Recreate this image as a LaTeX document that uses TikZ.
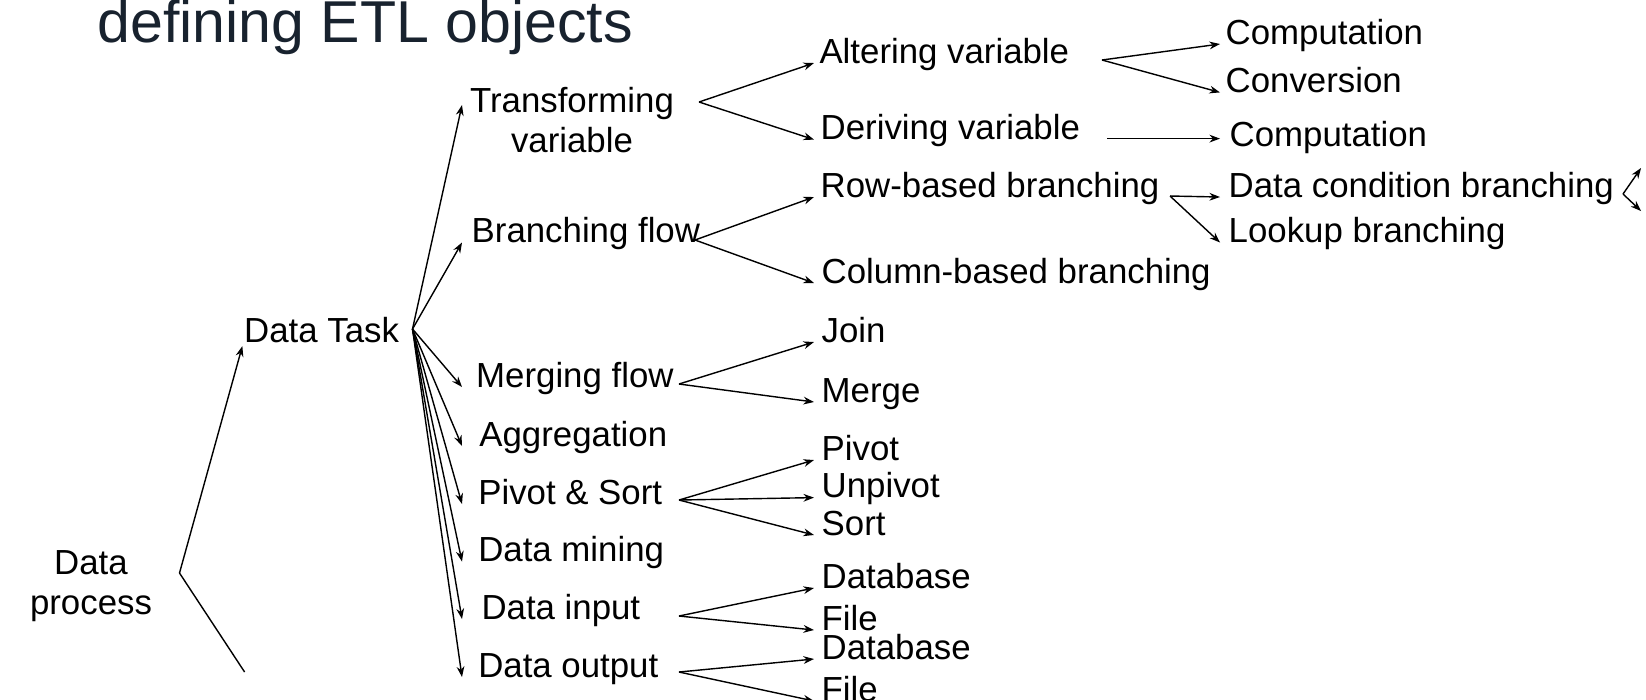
\documentclass[tikz,border=0pt]{standalone}
\usepackage{fontspec}
\setmainfont{Liberation Sans}
\usetikzlibrary{positioning,arrows.meta}
\definecolor{titlenavy}{HTML}{18222E}

\begin{document}
\begin{tikzpicture}[x=0.01cm, y=-0.01cm,
  >={Stealth[length=3pt,width=2.2pt]},
  item/.style={anchor=base west, inner sep=0pt, font=\fontsize{9.9}{11.1}\selectfont},
  link/.style={->, line width=0.4pt}]

\useasboundingbox (0,0) rectangle (1646,699);

% Title
\node[anchor=base west, inner sep=0pt, text=titlenavy, font=\fontsize{16.8}{20}\selectfont] (title) at (97,42) {defining ETL objects};

% Root and first level
\node[item, anchor=base, align=center] (process) at (91,614) {Data\\process};
\node[item] (task) at (243.5,342) {Data Task};

% Second level
\node[item, anchor=base, align=center] (trans) at (572,152) {Transforming\\variable};
\node[item] (branch) at (471,242.5) {Branching flow};
\node[item] (merging) at (475.5,387) {Merging flow};
\node[item] (agg) at (478.7,446) {Aggregation};
\node[item] (pivsort) at (477.6,504) {Pivot \& Sort};
\node[item] (mining) at (477.6,561.6) {Data mining};
\node[item] (input) at (480.8,619) {Data input};
\node[item] (output) at (477.6,677) {Data output};

% Third level
\node[item] (alter) at (818.8,63) {Altering variable};
\node[item] (derive) at (820,139.6) {Deriving variable};
\node[item] (rowb) at (820,197) {Row-based branching};
\node[item] (colb) at (821,283) {Column-based branching};
\node[item] (join) at (821,342) {Join};
\node[item] (merge) at (821,402) {Merge};
\node[item] (pivot) at (821,460) {Pivot};
\node[item] (unpivot) at (821,497.6) {Unpivot};
\node[item] (sort) at (821,535) {Sort};
\node[item] (indb) at (821,588) {Database};
\node[item] (infile) at (821,630) {File};
\node[item] (outdb) at (821,659) {Database};
\node[item] (outfile) at (821,701) {File};

% Fourth level
\node[item] (comp1) at (1225,44) {Computation};
\node[item] (conv) at (1225,92.4) {Conversion};
\node[item] (comp2) at (1229,146) {Computation};
\node[item] (cond) at (1228,197) {Data condition branching};
\node[item] (lookup) at (1228,242.5) {Lookup branching};

% Columns where the arrow tips stop
\coordinate (lvl2) at (462,0);
\coordinate (lvl3) at (814,0);
\coordinate (lvl4) at (1220,0);
\coordinate (trans-in) at (462,105);

% Fork points
\coordinate (dp-low) at (244.6,672);
\coordinate (dp-fork) at (179.5,573);
\coordinate (task-fork) at (412.5,329);
\coordinate (trans-fork) at (699,102);
\coordinate (branch-fork) at (695,240);
\coordinate (merging-fork) at (679,384);
\coordinate (pivsort-fork) at (679,500);
\coordinate (input-fork) at (679,616);
\coordinate (output-fork) at (679,672);
\coordinate (alter-fork) at (1102,60);
\coordinate (derive-fork) at (1107,138.6);
\coordinate (rowb-fork) at (1170,196);
\coordinate (cond-fork) at (1623,194);
\coordinate (cond-up) at (1641,168);
\coordinate (cond-down) at (1641,211);

% Connections
\draw[line width=0.4pt] (dp-low) -- (dp-fork);
\draw[link, shorten >=1.2pt] (dp-fork) -- (task.base west);
\draw[link] (task-fork) -- (trans-in);
\foreach \n in {branch,merging,agg,pivsort,mining,input,output}
    \draw[link] (task-fork) -- (lvl2 |- \n.base);
\foreach \f/\n in {trans/alter,trans/derive,branch/rowb,branch/colb,merging/join,merging/merge,
    pivsort/pivot,pivsort/unpivot,pivsort/sort,input/indb,input/infile,output/outdb,output/outfile}
    \draw[link] (\f-fork) -- (lvl3 |- \n.base);
\foreach \f/\n in {alter/comp1,alter/conv,rowb/cond,rowb/lookup}
    \draw[link] (\f-fork) -- (lvl4 |- \n.base);
\draw[link] (derive-fork) -- (lvl4 |- derive-fork);
\draw[link] (cond-fork) -- (cond-up);
\draw[link] (cond-fork) -- (cond-down);
\end{tikzpicture}
\end{document}
